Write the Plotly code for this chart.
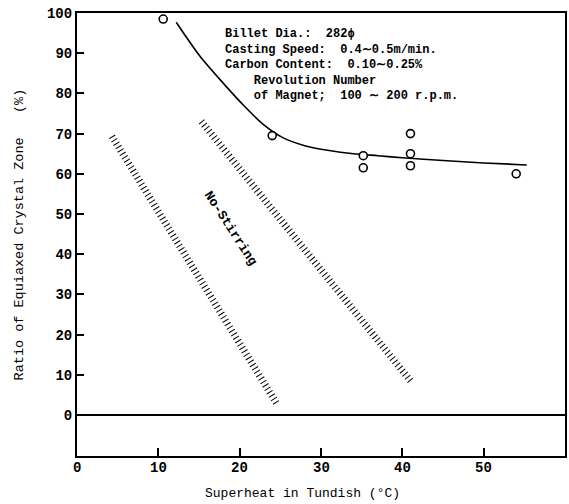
import plotly.graph_objects as go

# Observed points (magnetic stirring)
obs_x = [10.6, 24.0, 35.2, 35.2, 41.0, 41.0, 41.0, 54.0]
obs_y = [98.5, 69.5, 64.5, 61.5, 70.0, 65.0, 62.0, 60.0]

# Hand-drawn trend curve
trend_x = [12.2, 15.1, 18.0, 20.5, 22.9, 25.3, 28.0, 31.0, 34.0, 37.0, 40.0, 45.0, 50.0, 55.3]
trend_y = [97.7, 89.3, 82.5, 77.0, 72.3, 69.0, 67.0, 65.8, 65.0, 64.5, 64.0, 63.3, 62.7, 62.2]

# Hatched band limits of the No-Stirring region
band_lo_x = [4.3, 24.6]
band_lo_y = [69.3, 2.7]
band_hi_x = [15.3, 41.0]
band_hi_y = [73.0, 8.5]

x_ticks = [0, 10, 20, 30, 40, 50]
y_ticks = [0, 10, 20, 30, 40, 50, 60, 70, 80, 90, 100]

FONT = "Liberation Mono"

fig = go.Figure()

for bx, by in [(band_lo_x, band_lo_y), (band_hi_x, band_hi_y)]:
    fig.add_trace(go.Scatter(
        x=bx, y=by, mode="lines",
        line=dict(color="black", width=7, dash="1px,3px"),
        hoverinfo="skip", showlegend=False))

fig.add_trace(go.Scatter(
    x=trend_x, y=trend_y, mode="lines",
    line=dict(color="black", width=1.6, shape="spline", smoothing=0.8),
    showlegend=False))

fig.add_trace(go.Scatter(
    x=obs_x, y=obs_y, mode="markers",
    marker=dict(symbol="circle", size=8, color="white",
                line=dict(color="black", width=1.6)),
    showlegend=False))

NB = "\u00a0"
note_lines = [
    "Billet Dia.:" + NB * 2 + "282\u03d5",
    "Casting Speed:" + NB * 2 + "0.4\u223c0.5m/min.",
    "Carbon Content:" + NB * 2 + "0.10\u223c0.25%",
    NB * 4 + "Revolution Number",
    NB * 4 + "of Magnet;" + NB * 2 + "100 \u223c 200 r.p.m.",
]
fig.add_annotation(x=18.0, y=97.0, text="<br>".join(note_lines), showarrow=False,
                   xanchor="left", yanchor="top", align="left",
                   font=dict(family=FONT, size=12, color="black", weight="bold"))

fig.add_annotation(x=18.9, y=46.5, text="No-Stirring", showarrow=False,
                   textangle=57, font=dict(family=FONT, size=13, color="black", weight="bold"))

# x tick labels placed just under the axis
for v in x_ticks:
    fig.add_annotation(x=v, y=-0.026, xref="x", yref="paper", text=str(v),
                       showarrow=False, yanchor="middle",
                       font=dict(family=FONT, size=14, color="black", weight="bold"))

fig.add_annotation(x=27.7, y=-0.084, xref="x", yref="paper",
                   text="Superheat in Tundish (\u00b0C)", showarrow=False,
                   yanchor="middle", font=dict(family=FONT, size=13, color="black"))

fig.add_annotation(x=-0.117, y=0.5, xref="paper", yref="paper",
                   text="Ratio of Equiaxed Crystal Zone" + NB * 3 + "(%)",
                   showarrow=False, textangle=-90, xanchor="center", yanchor="middle",
                   font=dict(family=FONT, size=13.5, color="black"))

fig.update_xaxes(
    range=[0, 60], showgrid=False, zeroline=False, automargin=False,
    showline=True, linecolor="black", linewidth=2, mirror=True,
    ticks="inside", ticklen=8, tickwidth=1.5, tickcolor="black",
    tickvals=x_ticks, showticklabels=False,
)
fig.update_yaxes(
    range=[-10.2, 100], showgrid=False, automargin=False,
    zeroline=True, zerolinecolor="black", zerolinewidth=1.6,
    showline=True, linecolor="black", linewidth=2, mirror=True,
    ticks="inside", ticklen=7, tickwidth=1.5, tickcolor="black",
    tickvals=y_ticks, ticktext=[str(v) for v in y_ticks],
    ticklabeloverflow="allow",
    tickfont=dict(family=FONT, size=14, color="black", weight="bold"),
)

fig.update_layout(
    width=569, height=504,
    margin=dict(l=77, r=4, t=13, b=48, autoexpand=False),
    paper_bgcolor="white", plot_bgcolor="white",
    showlegend=False,
)

# remove the page's default body margin so the figure fills the window exactly
fig.write_html("out.html",
               config={"displayModeBar": False},
               post_script="document.body.style.margin='0';document.body.style.overflow='hidden';")
